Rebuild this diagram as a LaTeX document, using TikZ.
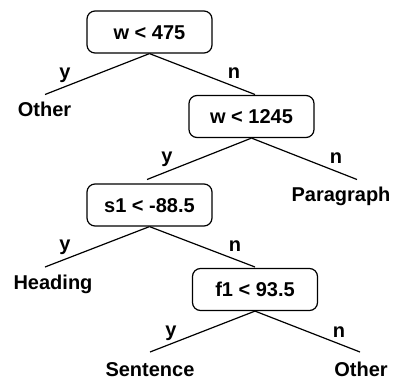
\documentclass[tikz,border=0pt]{standalone}
\usepackage{fontspec}
\setmainfont{Liberation Sans}
\begin{document}
\begin{tikzpicture}[x=1pt,y=-1pt,
  every node/.style={font=\fontsize{20}{24}\selectfont\bfseries},
  test/.style={draw, line width=1.2pt, rounded corners=8pt,
    minimum width=125pt, minimum height=42pt, inner sep=0pt,
    text height=14pt, text depth=0pt},
  leaf/.style={anchor=base, inner sep=0pt},
  branch/.style={anchor=base, inner sep=0pt},
  edge/.style={line width=1.2pt}]
\useasboundingbox (0,0) rectangle (396,380);

% decision nodes
\node[test] (t1) at (149.5,32)  {w < 475};
\node[test] (t2) at (251.5,116.5) {w < 1245};
\node[test] (t3) at (149.5,205) {s1 < -88.5};
\node[test] (t4) at (255,289.5) {f1 < 93.5};

% ends of the branches
\coordinate (e1y) at (45,94.5);
\coordinate (e1n) at (255,94.5);
\coordinate (e2y) at (147,179.5);
\coordinate (e2n) at (357,179.5);
\coordinate (e3y) at (45,267);
\coordinate (e3n) at (255,267);
\coordinate (e4y) at (150,352);
\coordinate (e4n) at (360,352);

\draw[edge] (t1.south) -- (e1y);
\draw[edge] (t1.south) -- (e1n);
\draw[edge] (t2.south) -- (e2y);
\draw[edge] (t2.south) -- (e2n);
\draw[edge] (t3.south) -- (e3y);
\draw[edge] (t3.south) -- (e3n);
\draw[edge] (t4.south) -- (e4y);
\draw[edge] (t4.south) -- (e4n);

% branch labels
\node[branch] (b1y) at (65,78) {y};
\node[branch] (b1n) at (234,78) {n};
\node[branch] (b2y) at (167,162) {y};
\node[branch] (b2n) at (336,163) {n};
\node[branch] (b3y) at (65,250) {y};
\node[branch] (b3n) at (235,251) {n};
\node[branch] (b4y) at (171,336) {y};
\node[branch] (b4n) at (339,337) {n};

% leaves
\node[leaf] (l1) at (44.5,116) {Other};
\node[leaf] (l2) at (341,201) {Paragraph};
\node[leaf] (l3) at (53,289) {Heading};
\node[leaf] (l4) at (150,376) {Sentence};
\node[leaf] (l5) at (361,376) {Other};
\end{tikzpicture}
\end{document}
